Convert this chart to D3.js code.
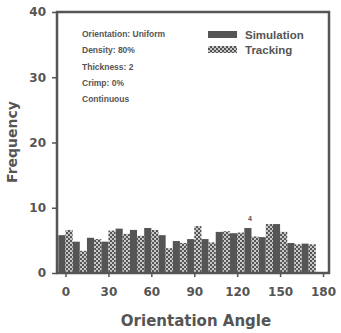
<!DOCTYPE html>
<html>
<head>
<meta charset="utf-8">
<style>
  body { margin: 0; background: #fff; }
  svg { font-family: "Liberation Sans", Arial, sans-serif; font-weight: bold; }
</style>
</head>
<body>
<svg width="341" height="333"></svg>
<script src="https://cdnjs.cloudflare.com/ajax/libs/d3/7.8.5/d3.min.js"></script>
<script>
// bin centres (degrees) and frequencies
var angles     = [0, 10, 20, 30, 40, 50, 60, 70, 80, 90, 100, 110, 120, 130, 140, 150, 160, 170];
var simulation = [5.8, 4.8, 5.4, 4.8, 6.8, 6.6, 6.9, 5.8, 4.9, 5.2, 5.2, 6.3, 6.1, 6.9, 5.5, 7.5, 4.6, 4.5];
var tracking   = [6.6, 3.4, 5.2, 6.5, 6.0, 5.7, 6.6, 3.8, 4.6, 7.2, 4.7, 6.4, 6.2, 5.6, 7.5, 6.3, 4.4, 4.4];
var xTicks = [0, 30, 60, 90, 120, 150, 180];
var yTicks = [0, 10, 20, 30, 40];
var notes = ["Orientation:  Uniform", "Density:  80%", "Thickness:  2", "Crimp:  0%", "Continuous"];
var seriesNames = ["Simulation", "Tracking"];

var ink = "#555";
var wide = "DejaVu Sans, Verdana, sans-serif";
var svg = d3.select("svg");

var x = d3.scaleLinear().domain([0, 180]).range([65.5, 323]);
var y = d3.scaleLinear().domain([0, 40]).range([273, 12]);
var binW = x(10) - x(0);

// dotted fill for the tracking bars
var defs = svg.append("defs");
var pat = defs.append("pattern")
    .attr("id", "dots")
    .attr("patternUnits", "userSpaceOnUse")
    .attr("width", 4).attr("height", 4);
pat.append("rect").attr("width", 4).attr("height", 4).attr("fill", ink);
pat.append("circle").attr("cx", 1).attr("cy", 1).attr("r", 0.9).attr("fill", "#fff");
pat.append("circle").attr("cx", 3).attr("cy", 3).attr("r", 0.9).attr("fill", "#fff");

// bars
svg.append("g").selectAll("rect")
    .data(angles)
  .enter().append("rect")
    .attr("x", function(d) { return x(d) - binW / 2; })
    .attr("y", function(d, i) { return y(simulation[i]); })
    .attr("width", binW / 2)
    .attr("height", function(d, i) { return y(0) - y(simulation[i]); })
    .attr("fill", ink);

svg.append("g").selectAll("rect")
    .data(angles)
  .enter().append("rect")
    .attr("x", function(d) { return x(d); })
    .attr("y", function(d, i) { return y(tracking[i]); })
    .attr("width", binW / 2)
    .attr("height", function(d, i) { return y(0) - y(tracking[i]); })
    .attr("fill", "url(#dots)");

// axes
var yAxis = svg.append("g")
    .attr("transform", "translate(57,0)")
    .call(d3.axisLeft(y).tickValues(yTicks).tickSize(5).tickPadding(6));
var xAxis = svg.append("g")
    .attr("transform", "translate(0,273)")
    .call(d3.axisBottom(x).tickValues(xTicks).tickSize(4).tickPadding(10));

[yAxis, xAxis].forEach(function(a) {
  a.select(".domain").remove();
  a.selectAll("line").attr("stroke", ink).attr("stroke-width", 1.5);
  a.selectAll("text")
    .attr("fill", ink)
    .style("font-size", "12px")
    .style("font-family", wide)
    .style("font-weight", "bold");
});

// frame
svg.append("rect")
    .attr("x", 57).attr("y", 12)
    .attr("width", 329 - 57).attr("height", 273 - 12)
    .attr("fill", "none")
    .attr("stroke", ink)
    .attr("stroke-width", 2.5);

// axis titles
svg.append("text")
    .attr("x", 196).attr("y", 326)
    .attr("text-anchor", "middle")
    .attr("fill", ink)
    .style("font-family", wide)
    .style("font-size", "15px")
    .text("Orientation Angle");

svg.append("text")
    .attr("transform", "translate(17,142) rotate(-90)")
    .attr("text-anchor", "middle")
    .attr("fill", ink)
    .style("font-family", wide)
    .style("font-size", "14px")
    .text("Frequency");

// parameter notes
svg.append("g").selectAll("text")
    .data(notes)
  .enter().append("text")
    .attr("x", 82)
    .attr("y", function(d, i) { return 37 + i * 16.3; })
    .attr("fill", ink)
    .style("font-size", "8.5px")
    .text(function(d) { return d; });

// legend
var leg = svg.append("g").selectAll("g")
    .data(seriesNames)
  .enter().append("g")
    .attr("transform", function(d, i) { return "translate(208," + (31 + i * 15) + ")"; });
leg.append("rect")
    .attr("width", 29).attr("height", 7)
    .attr("fill", function(d, i) { return i === 0 ? ink : "url(#dots)"; });
leg.append("text")
    .attr("x", 37).attr("y", 7.5)
    .attr("fill", ink)
    .style("font-size", "11.5px")
    .text(function(d) { return d; });

// stray mark above the 120-130 bins
svg.append("text")
    .attr("x", 250).attr("y", 221)
    .attr("text-anchor", "middle")
    .attr("fill", ink)
    .style("font-size", "7px")
    .text("4");
</script>
</body>
</html>
